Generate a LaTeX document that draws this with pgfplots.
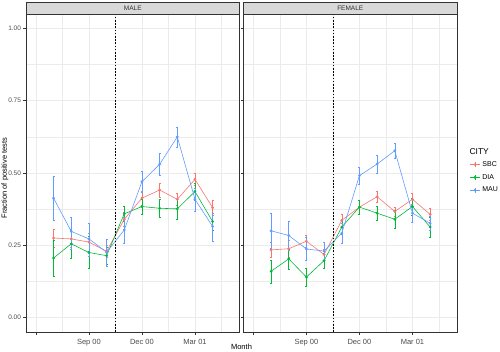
\documentclass[border=0pt]{standalone}
\usepackage{pgfplots}
\pgfplotsset{compat=1.18}
\usepackage{pgfplotstable}
\usepackage{fontspec}
\setmainfont{Liberation Sans}
\definecolor{cSBC}{HTML}{F8766D}
\definecolor{cDIA}{HTML}{00BA38}
\definecolor{cMAU}{HTML}{619CFF}
\definecolor{g20}{gray}{0.2}
\definecolor{g30}{gray}{0.3}
\definecolor{g85}{gray}{0.85}
\definecolor{g92}{gray}{0.92}

\pgfplotstableread{
x y ep em
1 0.275 0.030 0.030
2 0.272 0.030 0.030
3 0.261 0.030 0.030
4 0.229 0.020 0.020
5 0.340 0.025 0.025
6 0.413 0.025 0.025
7 0.441 0.025 0.025
8 0.409 0.020 0.020
9 0.478 0.020 0.020
10 0.380 0.025 0.025
}\mSBC
\pgfplotstableread{
x y ep em
1 0.206 0.063 0.063
2 0.255 0.050 0.050
3 0.225 0.055 0.055
4 0.214 0.030 0.030
5 0.359 0.025 0.025
6 0.384 0.025 0.025
7 0.378 0.030 0.030
8 0.376 0.035 0.035
9 0.436 0.030 0.030
10 0.332 0.030 0.030
}\mDIA
\pgfplotstableread{
x y ep em
1 0.413 0.077 0.077
2 0.298 0.050 0.060
3 0.272 0.055 0.060
4 0.226 0.045 0.050
5 0.303 0.045 0.045
6 0.470 0.035 0.035
7 0.530 0.037 0.037
8 0.625 0.035 0.035
9 0.409 0.040 0.040
10 0.315 0.045 0.050
}\mMAU
\pgfplotstableread{
x y ep em
1 0.234 0.025 0.025
2 0.238 0.030 0.030
3 0.264 0.020 0.020
4 0.218 0.020 0.020
5 0.336 0.020 0.020
6 0.382 0.025 0.025
7 0.418 0.020 0.020
8 0.367 0.015 0.015
9 0.409 0.020 0.020
10 0.357 0.020 0.020
}\fSBC
\pgfplotstableread{
x y ep em
1 0.160 0.040 0.040
2 0.203 0.035 0.035
3 0.140 0.030 0.030
4 0.197 0.025 0.025
5 0.313 0.025 0.025
6 0.382 0.025 0.025
7 0.361 0.025 0.025
8 0.340 0.030 0.030
9 0.384 0.030 0.030
10 0.313 0.035 0.035
}\fDIA
\pgfplotstableread{
x y ep em
1 0.300 0.060 0.060
2 0.284 0.050 0.050
3 0.237 0.040 0.040
4 0.230 0.030 0.030
5 0.292 0.035 0.035
6 0.491 0.030 0.030
7 0.531 0.030 0.030
8 0.577 0.027 0.027
9 0.361 0.030 0.030
10 0.326 0.025 0.025
}\fMAU

\pgfplotsset{
  panel/.style={
    scale only axis, width=213.5pt, height=318pt,
    xmin=-0.56, xmax=11.52, ymin=-0.05, ymax=1.05,
    xtick={0,3,6,9}, xticklabels={,Sep 00,Dec 00,Mar 01},
    minor xtick={1.5,4.5,7.5,10.5},
    ytick={0,0.25,0.5,0.75,1}, minor ytick={0.125,0.375,0.625,0.875},
    grid=both,
    major grid style={g92, line width=0.5pt},
    minor grid style={g92, line width=0.25pt},
    tick align=outside, tick pos=left,
    major tick length=2.5pt, minor tick length=0pt,
    tick style={g20, line width=0.5pt},
    axis line style={g20, line width=0.5pt},
    /pgf/number format/assume math mode=true,
    xticklabel style={font=\fontsize{7.5}{9}\selectfont, text=g30, yshift=-1pt},
    yticklabel style={font=\fontsize{6.5}{8}\selectfont, text=g30, xshift=1pt},
    clip=true,
  },
  ser/.style={color=#1, line width=0.6pt, mark=*, mark size=1.1pt,
    error bars/.cd, y dir=both, y explicit,
    error bar style={#1, line width=0.5pt},
    error mark options={rotate=90, mark size=1pt, #1}},
}

\begin{document}
\begin{tikzpicture}
\path[use as bounding box] (0pt,0pt) rectangle (500pt,351pt);

% left panel
\begin{axis}[panel, at={(26pt,19pt)}, anchor=south west,
  yticklabels={0.00,0.25,0.50,0.75,1.00}]
\addplot[ser=cSBC] table[x=x,y=y,y error plus=ep,y error minus=em] {\mSBC};
\addplot[ser=cDIA] table[x=x,y=y,y error plus=ep,y error minus=em] {\mDIA};
\addplot[ser=cMAU] table[x=x,y=y,y error plus=ep,y error minus=em] {\mMAU};
\addplot[black, line width=0.7pt, dash pattern=on 1.6pt off 1.6pt] coordinates {(4.5,-0.05) (4.5,1.05)};
\end{axis}

% right panel
\begin{axis}[panel, at={(243.5pt,19pt)}, anchor=south west,
  yticklabels={}, 
  legend style={at={(1.045,0.55)}, anchor=north west, draw=none, fill=none,
    font=\fontsize{7}{8.5}\selectfont, row sep=2.5pt},
  legend cell align=left,
  legend image code/.code={
    \draw[#1, mark=none] (0pt,0pt) -- (10pt,0pt);
    \draw[#1, mark=none, line width=0.5pt] (5pt,-2.5pt) -- (5pt,2.5pt);
    \fill[#1] (5pt,0pt) circle (1.1pt);}]
\addplot[ser=cSBC] table[x=x,y=y,y error plus=ep,y error minus=em] {\fSBC};
\addlegendentry{SBC}
\addplot[ser=cDIA] table[x=x,y=y,y error plus=ep,y error minus=em] {\fDIA};
\addlegendentry{DIA}
\addplot[ser=cMAU] table[x=x,y=y,y error plus=ep,y error minus=em] {\fMAU};
\addlegendentry{MAU}
\addplot[black, line width=0.7pt, dash pattern=on 1.6pt off 1.6pt, forget plot] coordinates {(4.5,-0.05) (4.5,1.05)};
\end{axis}

% strips
\draw[g20, fill=g85, line width=0.5pt] (26pt,337pt) rectangle (239.5pt,349pt);
\draw[g20, fill=g85, line width=0.5pt] (243.5pt,337pt) rectangle (457pt,349pt);
\node[font=\fontsize{6.5}{8}\selectfont, text=g20] at (132.75pt,343pt) {MALE};
\node[font=\fontsize{6.5}{8}\selectfont, text=g20] at (350.25pt,343pt) {FEMALE};

% titles
\node[font=\fontsize{7.5}{9}\selectfont, rotate=90] at (5pt,173pt) {Fraction of positive tests};
\node[font=\fontsize{7.5}{9}\selectfont] at (241.5pt,4pt) {Month};
\node[font=\fontsize{8.5}{10}\selectfont, anchor=south west] at (466pt,193pt) {CITY};
\end{tikzpicture}
\end{document}
